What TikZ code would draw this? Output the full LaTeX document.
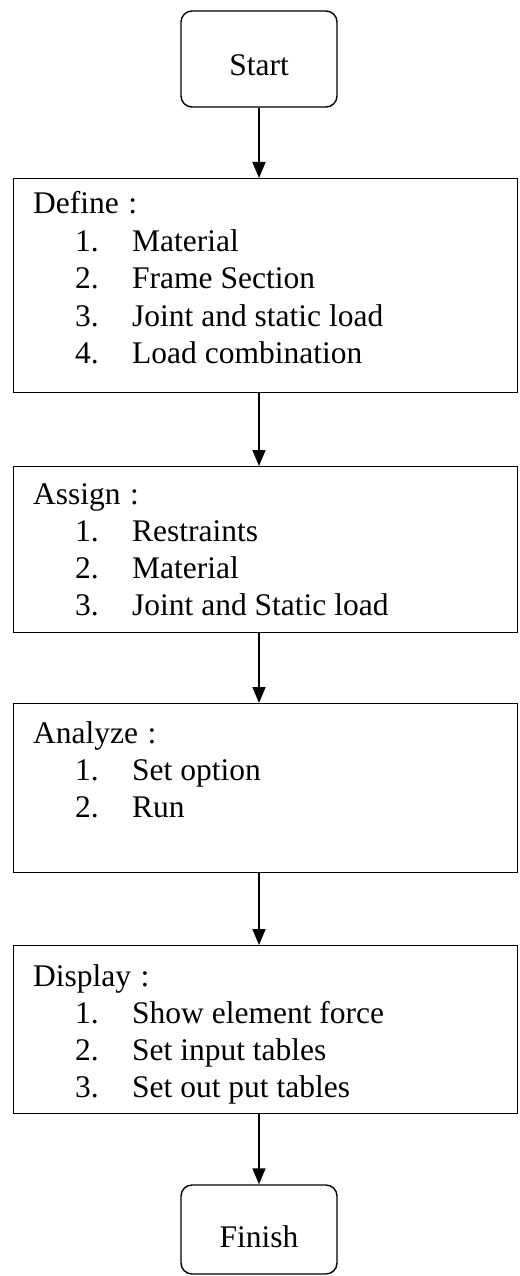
\documentclass[tikz,border=0pt]{standalone}
\usepackage{fontspec}
\setmainfont{Liberation Serif}
\usetikzlibrary{arrows.meta}
\begin{document}
\begin{tikzpicture}[x=1pt,y=-1pt,
  term/.style={draw,line width=1.4pt,rounded corners=11pt,text depth=0pt},
  proc/.style={draw,line width=1.4pt},
  txt/.style={font=\fontsize{31.5}{37}\selectfont,inner sep=0pt,anchor=base west},
  flow/.style={line width=1.6pt,-{Triangle[length=16pt,width=13pt]}}]
\useasboundingbox (0,0) rectangle (519,1276);
% terminals
\node[term,minimum width=156pt,minimum height=96pt] (start) at (259,59) {};
\node[txt,anchor=base] (starttxt) at (259,76) {Start};
\node[term,minimum width=156pt,minimum height=89pt] (finish) at (259,1229.5) {};
\node[txt,anchor=base] (finishtxt) at (259,1247) {Finish};
% process boxes
\node[proc,minimum width=504pt,minimum height=214pt,anchor=north west] (define) at (13,178) {};
\node[proc,minimum width=504pt,minimum height=166pt,anchor=north west] (assign) at (13,466) {};
\node[proc,minimum width=504pt,minimum height=169pt,anchor=north west] (analyze) at (13,703) {};
\node[proc,minimum width=504pt,minimum height=168pt,anchor=north west] (display) at (13,945) {};
% texts
\node[txt] (d0) at (33,213) {Define\hspace{0.3em}:};
\node[txt] (d1) at (75,251) {1.};\node[txt] (d1t) at (132,251) {Material};
\node[txt] (d2) at (75,288) {2.};\node[txt] (d2t) at (132,288) {Frame Section};
\node[txt] (d3) at (75,326) {3.};\node[txt] (d3t) at (132,326) {Joint and static load};
\node[txt] (d4) at (75,363) {4.};\node[txt] (d4t) at (132,363) {Load combination};
\node[txt] (a0) at (33,504) {Assign\hspace{0.3em}:};
\node[txt] (a1) at (75,541) {1.};\node[txt] (a1t) at (132,541) {Restraints};
\node[txt] (a2) at (75,578) {2.};\node[txt] (a2t) at (132,578) {Material};
\node[txt] (a3) at (75,615) {3.};\node[txt] (a3t) at (132,615) {Joint and Static load};
\node[txt] (n0) at (33,743) {Analyze\hspace{0.3em}:};
\node[txt] (n1) at (75,780) {1.};\node[txt] (n1t) at (132,780) {Set option};
\node[txt] (n2) at (75,817) {2.};\node[txt] (n2t) at (132,817) {Run};
\node[txt] (p0) at (33,986) {Display\hspace{0.3em}:};
\node[txt] (p1) at (75,1023) {1.};\node[txt] (p1t) at (132,1023) {Show element force};
\node[txt] (p2) at (75,1060) {2.};\node[txt] (p2t) at (132,1060) {Set input tables};
\node[txt] (p3) at (75,1097) {3.};\node[txt] (p3t) at (132,1097) {Set out put tables};
% connectors
\draw[flow] (start.south) -- (start.south |- define.north);
\draw[flow] (start.south |- define.south) -- (start.south |- assign.north);
\draw[flow] (start.south |- assign.south) -- (start.south |- analyze.north);
\draw[flow] (start.south |- analyze.south) -- (start.south |- display.north);
\draw[flow] (start.south |- display.south) -- (finish.north);
\end{tikzpicture}
\end{document}
